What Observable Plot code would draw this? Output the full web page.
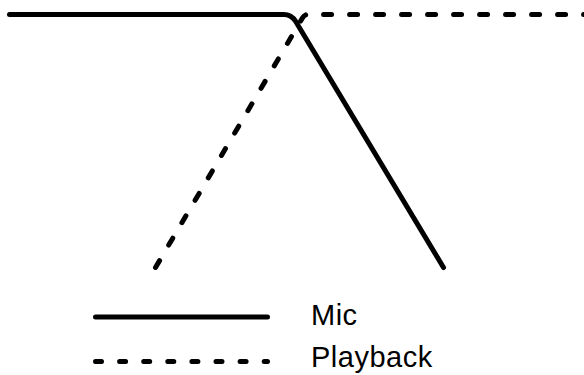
<!DOCTYPE html>
<html>
<head>
<meta charset="utf-8">
<script src="https://cdn.jsdelivr.net/npm/d3@7"></script>
<script src="https://cdn.jsdelivr.net/npm/@observablehq/plot@0.6"></script>
<style>
  html, body { margin: 0; padding: 0; background: #fff; }
  #wrap { width: 584px; height: 375px; overflow: hidden; }
  svg { display: block; }
</style>
</head>
<body>
<div id="wrap"></div>
<script>
// Data (abstract time vs. level)
const micTime = [9, 291, 443];
const micLevel = [100, 100, 0];
const playbackTime = [155, 304, 584];
const playbackLevel = [0, 100, 100];
const seriesNames = ["Mic", "Playback"];

const mic = micTime.map((t, i) => ({t, v: micLevel[i]}));
const playback = playbackTime.map((t, i) => ({t, v: playbackLevel[i]}));

// custom curve with rounded corners
function roundedCorners(r) {
  return function(context) {
    let pts = [];
    return {
      areaStart() {}, areaEnd() {},
      lineStart() { pts = []; },
      point(x, y) { pts.push([+x, +y]); },
      lineEnd() {
        if (!pts.length) return;
        context.moveTo(pts[0][0], pts[0][1]);
        for (let i = 1; i < pts.length - 1; ++i)
          context.arcTo(pts[i][0], pts[i][1], pts[i + 1][0], pts[i + 1][1], r);
        if (pts.length > 1) context.lineTo(pts[pts.length - 1][0], pts[pts.length - 1][1]);
      }
    };
  };
}

const chart = Plot.plot({
  width: 584,
  height: 290,
  margin: 0,
  x: {domain: [0, 584], range: [0, 584], axis: null},
  y: {domain: [0, 100], range: [267, 14], axis: null},
  marks: [
    Plot.line(mic, {x: "t", y: "v", stroke: "#000", strokeWidth: 5,
      strokeLinecap: "round", strokeLinejoin: "round", curve: roundedCorners(14)}),
    Plot.line(playback, {x: "t", y: "v", stroke: "#000", strokeWidth: 5,
      strokeLinecap: "round", strokeLinejoin: "round", strokeDasharray: "8,18",
      curve: roundedCorners(6)})
  ]
});
document.getElementById("wrap").appendChild(chart);

// Legend below the plot
const ns = "http://www.w3.org/2000/svg";
const leg = document.createElementNS(ns, "svg");
leg.setAttribute("width", 584);
leg.setAttribute("height", 85);
const rows = [
  {name: seriesNames[0], ly: 27, ty: 35, dash: null},
  {name: seriesNames[1], ly: 71.5, ty: 77, dash: "6,18.1"}
];
for (const r of rows) {
  const l = document.createElementNS(ns, "line");
  l.setAttribute("x1", 95.5); l.setAttribute("x2", 267.5);
  l.setAttribute("y1", r.ly); l.setAttribute("y2", r.ly);
  l.setAttribute("stroke", "#000");
  l.setAttribute("stroke-width", 5);
  l.setAttribute("stroke-linecap", "round");
  if (r.dash) l.setAttribute("stroke-dasharray", r.dash);
  leg.appendChild(l);
  const t = document.createElementNS(ns, "text");
  t.setAttribute("x", 311); t.setAttribute("y", r.ty);
  t.setAttribute("font-family", "'Liberation Sans', Arial, Helvetica, sans-serif");
  t.setAttribute("font-size", 29);
  t.setAttribute("letter-spacing", 0.5);
  t.setAttribute("fill", "#000");
  t.textContent = r.name;
  leg.appendChild(t);
}
document.getElementById("wrap").appendChild(leg);
</script>
</body>
</html>
